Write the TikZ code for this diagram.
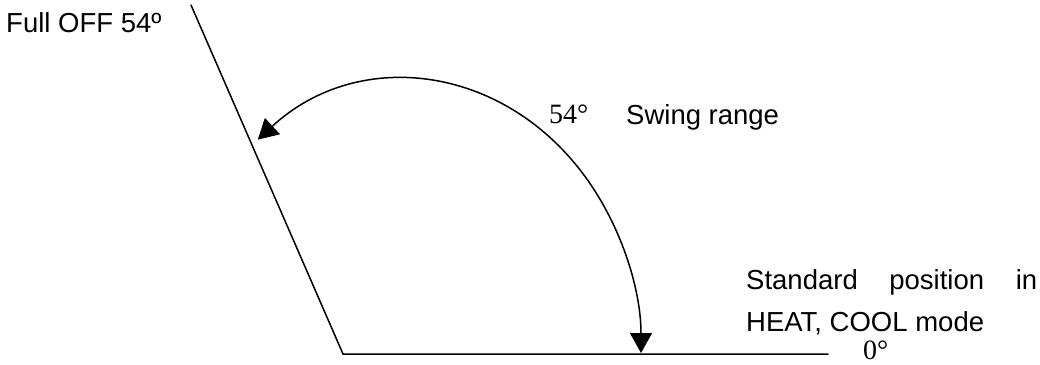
\documentclass[tikz,border=0pt]{standalone}
\usepackage{fontspec}
\setmainfont{Liberation Sans}
\newfontfamily\serifdeg{Liberation Serif}
\usetikzlibrary{arrows.meta}
\tikzset{
  edge/.style={line width=1.5pt, line cap=round, line join=miter},
  swing/.style={line width=1.5pt, {Triangle[length=20pt,width=22pt]}-{Triangle[length=20pt,width=22pt]}},
  sanslabel/.style={anchor=base west, inner sep=0pt, font=\fontsize{27.5}{31}\selectfont},
  deglabel/.style={anchor=base west, inner sep=0pt, font=\serifdeg\fontsize{28}{32}\selectfont}
}
\begin{document}
\begin{tikzpicture}[x=1pt,y=1pt]
\useasboundingbox (0,0) rectangle (1040,-364);
% lines
\coordinate (top) at (191,-5);
\coordinate (vertex) at (343,-354);
\coordinate (right) at (828,-354);
\draw[edge] (top) -- (vertex) -- (right);
% swing arc
\coordinate (arcstart) at ({405+236*cos(128.6)},{-353+273*sin(128.6)});
\draw[swing] (arcstart) arc[start angle=128.6, end angle=0, x radius=236, y radius=273];
% labels
\node[sanslabel] (fulloff) at (6,-32) {Full OFF 54º};
\node[deglabel] (deg54) at (549,-123) {54°};
\node[sanslabel] (swingrange) at (626,-124) {Swing range};
\node[sanslabel] (std1) at (746,-289) {\hbox to 291pt{Standard\hfil position\hfil in}};
\node[sanslabel] (std2) at (746,-331) {HEAT, COOL mode};
\node[deglabel] (deg0) at (863,-359) {0°};
\end{tikzpicture}
\end{document}
